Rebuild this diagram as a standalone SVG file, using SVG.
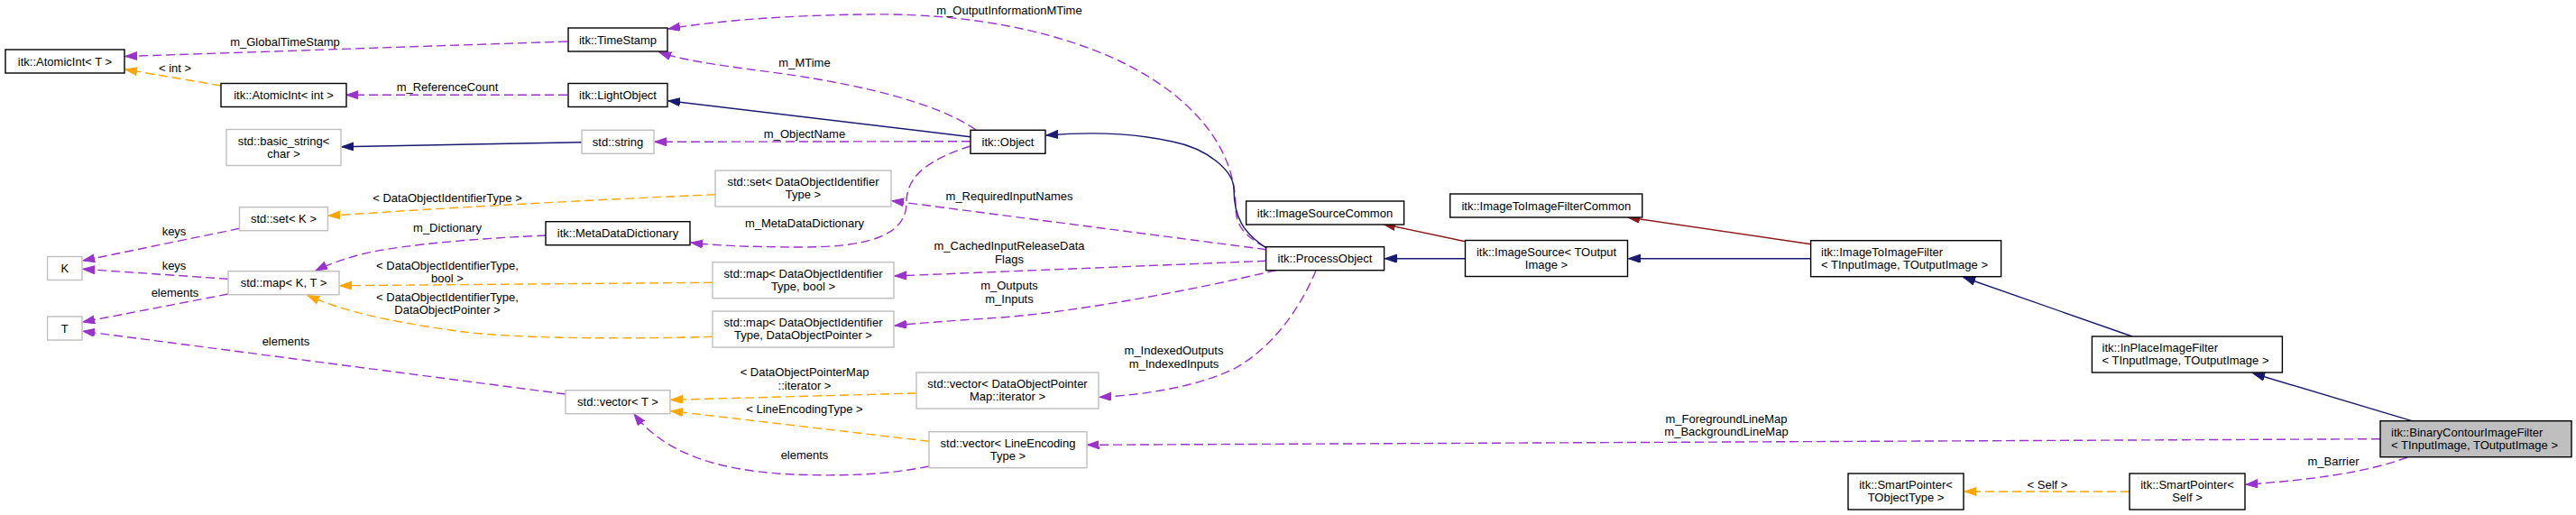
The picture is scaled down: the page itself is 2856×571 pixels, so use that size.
<svg xmlns="http://www.w3.org/2000/svg" width="2856" height="571" viewBox="0 0 2856 571">
<style>
text{font-family:"Liberation Sans",Arial,Helvetica,sans-serif;font-size:13px;fill:#000}
.nd rect{fill:#fff;stroke:#000;stroke-width:1.4}
.gr rect{stroke:#bfbfbf}
.sel rect{fill:#bfbfbf}
.c{text-anchor:middle}
#edges path{fill:none;stroke-width:1.4}
.u{stroke:#9a32cd;stroke-dasharray:10,5;marker-end:url(#mp)}
.t{stroke:#ffa500;stroke-dasharray:10,5;marker-end:url(#mo)}
.i{stroke:#191970;marker-end:url(#mn)}
.r{stroke:#8b1a1a;marker-end:url(#mr)}
</style>
<defs>
<marker id="mp" markerUnits="userSpaceOnUse" markerWidth="14" markerHeight="10" refX="13" refY="4.5" orient="auto"><path d="M0,0 L13,4.5 L0,9 z" fill="#9a32cd" stroke="#9a32cd"/></marker>
<marker id="mo" markerUnits="userSpaceOnUse" markerWidth="14" markerHeight="10" refX="13" refY="4.5" orient="auto"><path d="M0,0 L13,4.5 L0,9 z" fill="#ffa500" stroke="#ffa500"/></marker>
<marker id="mn" markerUnits="userSpaceOnUse" markerWidth="14" markerHeight="10" refX="13" refY="4.5" orient="auto"><path d="M0,0 L13,4.5 L0,9 z" fill="#191970" stroke="#191970"/></marker>
<marker id="mr" markerUnits="userSpaceOnUse" markerWidth="14" markerHeight="10" refX="13" refY="4.5" orient="auto"><path d="M0,0 L13,4.5 L0,9 z" fill="#8b1a1a" stroke="#8b1a1a"/></marker>
</defs>
<rect width="2856" height="571" fill="#fff"/>
<g id="edges">
<path class="u" d="M629,46 L139,62.5"/>
<text class="c" x="316" y="51">m_GlobalTimeStamp</text>
<path class="t" d="M245,95 L139,77"/>
<text class="c" x="194" y="79.5">&lt; int &gt;</text>
<path class="u" d="M629,105.3 L384,105.3"/>
<text class="c" x="496" y="101">m_ReferenceCount</text>
<path class="u" d="M1403,274 C1380,262 1370,250 1370,230 C1370,170 1330,110 1240,67 C1160,30 1060,14 957,16 C880,17 800,22 741,32"/>
<text class="c" x="1119" y="16">m_OutputInformationMTime</text>
<path class="u" d="M1082,144 C1040,115 960,95 870,82 C810,74 760,68 731,58"/>
<text class="c" x="892" y="73.5">m_MTime</text>
<path class="i" d="M1076,151.7 L741,111.7"/>
<path class="u" d="M1076,156.7 L726,157.3"/>
<text class="c" x="892" y="153">m_ObjectName</text>
<path class="u" d="M1076,162 C1020,180 1005,200 1005,225 C1005,262 960,274 890,274 C830,274 790,272 766,269"/>
<text class="c" x="892" y="252">m_MetaDataDictionary</text>
<path class="i" d="M645,157.7 L379,162.7"/>
<path class="t" d="M793,215.7 C650,222 500,230 364,239.3"/>
<text class="c" x="496" y="223.5">&lt; DataObjectIdentifierType &gt;</text>
<path class="u" d="M265.5,253.3 L92,289"/>
<text class="c" x="193" y="260.5">keys</text>
<path class="u" d="M605,261 C540,264 450,270 400,282 C375,289 360,295 350,300"/>
<text class="c" x="496" y="257">m_Dictionary</text>
<path class="u" d="M253,309.3 L92,298.3"/>
<text class="c" x="193" y="299">keys</text>
<path class="u" d="M253,326 L92,357"/>
<text class="c" x="194" y="328.5">elements</text>
<path class="t" d="M790,313.3 L377,316.7"/>
<text class="c" x="496" y="299">&lt; DataObjectIdentifierType,</text>
<text class="c" x="496" y="313">bool &gt;</text>
<path class="t" d="M790,373.3 C700,376 560,376 500,366 C430,356 380,345 341,327.5"/>
<text class="c" x="496" y="333.5">&lt; DataObjectIdentifierType,</text>
<text class="c" x="496" y="347.5">DataObjectPointer &gt;</text>
<path class="u" d="M627,437 L92,367.3"/>
<text class="c" x="317" y="383">elements</text>
<path class="i" d="M1404,275 C1378,258 1368,240 1368,210 C1368,190 1340,165 1300,157 C1260,148 1210,146 1160,150"/>
<path class="u" d="M1404,276.7 L989,222.7"/>
<text class="c" x="1119" y="221.5">m_RequiredInputNames</text>
<path class="u" d="M1404,289.3 L992,306"/>
<text class="c" x="1119" y="277">m_CachedInputReleaseData</text>
<text class="c" x="1119" y="291.5">Flags</text>
<path class="u" d="M1415,299.5 C1330,320 1200,345 1110,352 C1050,356 1020,358 992,361"/>
<text class="c" x="1119" y="321">m_Outputs</text>
<text class="c" x="1119" y="336">m_Inputs</text>
<path class="u" d="M1459,300 C1440,345 1410,385 1370,408 C1330,428 1270,438 1219,440.3"/>
<text class="c" x="1301.5" y="393">m_IndexedOutputs</text>
<text class="c" x="1301.5" y="408">m_IndexedInputs</text>
<path class="t" d="M1016,436 L744,443.3"/>
<text class="c" x="892" y="417">&lt; DataObjectPointerMap</text>
<text class="c" x="892" y="432">::iterator &gt;</text>
<path class="t" d="M1030,489.3 L744,455.7"/>
<text class="c" x="892" y="457.5">&lt; LineEncodingType &gt;</text>
<path class="u" d="M1030,517 C980,527 930,528 880,526 C790,522 735,500 703,459"/>
<text class="c" x="892" y="508.5">elements</text>
<path class="r" d="M1624.5,267.7 L1534,248.5"/>
<path class="r" d="M2008,270.7 L1805,241"/>
<path class="i" d="M1624.5,286.7 L1535.5,286.7"/>
<path class="i" d="M2008,286.7 L1805.5,286.7"/>
<path class="i" d="M2364,373 L2177,307.5"/>
<path class="i" d="M2674,466.7 L2498,414"/>
<path class="u" d="M2639,486.7 L1205.5,493.3"/>
<text class="c" x="1914" y="468.5">m_ForegroundLineMap</text>
<text class="c" x="1914" y="483">m_BackgroundLineMap</text>
<path class="u" d="M2669,507 C2620,525 2560,532 2490,537.3"/>
<text class="c" x="2587" y="516">m_Barrier</text>
<path class="t" d="M2361,545 L2178,545"/>
<text class="c" x="2270" y="541.5">&lt; Self &gt;</text>
</g>
<g id="n_atomicT" class="nd"><rect x="6" y="55" width="132" height="26"/><text class="c" x="72" y="72.5">itk::AtomicInt&lt; T &gt;</text></g>
<g id="n_timestamp" class="nd"><rect x="630" y="31" width="110" height="26"/><text class="c" x="685" y="48.5">itk::TimeStamp</text></g>
<g id="n_atomicInt" class="nd"><rect x="245" y="92.5" width="139" height="26"/><text class="c" x="314.5" y="110">itk::AtomicInt&lt; int &gt;</text></g>
<g id="n_lightobject" class="nd"><rect x="630" y="92.5" width="110" height="26"/><text class="c" x="685" y="110">itk::LightObject</text></g>
<g id="n_basicstring" class="nd gr"><rect x="251" y="143.5" width="127" height="40"/><text class="c" x="314.5" y="160.5">std::basic_string&lt;</text><text class="c" x="314.5" y="174.5">char &gt;</text></g>
<g id="n_string" class="nd gr"><rect x="645" y="144.3" width="80" height="26"/><text class="c" x="685" y="161.8">std::string</text></g>
<g id="n_object" class="nd"><rect x="1076" y="144.3" width="83" height="26"/><text class="c" x="1117.5" y="161.8">itk::Object</text></g>
<g id="n_setDOI" class="nd gr"><rect x="793" y="189" width="195" height="40"/><text class="c" x="890.5" y="206">std::set&lt; DataObjectIdentifier</text><text class="c" x="890.5" y="220">Type &gt;</text></g>
<g id="n_setK" class="nd gr"><rect x="265.5" y="229.7" width="98" height="26"/><text class="c" x="314.5" y="247.2">std::set&lt; K &gt;</text></g>
<g id="n_metadata" class="nd"><rect x="605" y="245.7" width="160" height="26"/><text class="c" x="685" y="263.2">itk::MetaDataDictionary</text></g>
<g id="n_K" class="nd gr"><rect x="52.6" y="284.5" width="38.4" height="26"/><text class="c" x="71.8" y="302">K</text></g>
<g id="n_mapKT" class="nd gr"><rect x="253" y="300.7" width="123" height="26"/><text class="c" x="314.5" y="318.2">std::map&lt; K, T &gt;</text></g>
<g id="n_T" class="nd gr"><rect x="52.6" y="351" width="38.4" height="26"/><text class="c" x="71.8" y="368.5">T</text></g>
<g id="n_mapBool" class="nd gr"><rect x="790" y="290.7" width="201" height="40"/><text class="c" x="890.5" y="307.7">std::map&lt; DataObjectIdentifier</text><text class="c" x="890.5" y="321.7">Type, bool &gt;</text></g>
<g id="n_mapDOP" class="nd gr"><rect x="790" y="345" width="201" height="40"/><text class="c" x="890.5" y="362">std::map&lt; DataObjectIdentifier</text><text class="c" x="890.5" y="376">Type, DataObjectPointer &gt;</text></g>
<g id="n_vectorT" class="nd gr"><rect x="627" y="432.7" width="116" height="26"/><text class="c" x="685" y="450.2">std::vector&lt; T &gt;</text></g>
<g id="n_vecDOPMap" class="nd gr"><rect x="1016" y="413" width="202" height="40"/><text class="c" x="1117" y="430">std::vector&lt; DataObjectPointer</text><text class="c" x="1117" y="444">Map::iterator &gt;</text></g>
<g id="n_vecLine" class="nd gr"><rect x="1030" y="478.7" width="175" height="40"/><text class="c" x="1117.5" y="495.7">std::vector&lt; LineEncoding</text><text class="c" x="1117.5" y="509.7">Type &gt;</text></g>
<g id="n_processobject" class="nd"><rect x="1403.6" y="273.7" width="131" height="26"/><text class="c" x="1469" y="291.2">itk::ProcessObject</text></g>
<g id="n_imgsrccommon" class="nd"><rect x="1381.6" y="223" width="175" height="26"/><text class="c" x="1469" y="240.5">itk::ImageSourceCommon</text></g>
<g id="n_i2icommon" class="nd"><rect x="1607.7" y="215" width="213" height="26"/><text class="c" x="1714.3" y="232.5">itk::ImageToImageFilterCommon</text></g>
<g id="n_imgsrc" class="nd"><rect x="1624.5" y="266.5" width="180" height="40"/><text class="c" x="1714.5" y="283.5">itk::ImageSource&lt; TOutput</text><text class="c" x="1714.5" y="297.5">Image &gt;</text></g>
<g id="n_i2i" class="nd"><rect x="2007.6" y="266.7" width="211" height="40"/><text x="2019" y="283.7">itk::ImageToImageFilter</text><text x="2019" y="297.7">&lt; TInputImage, TOutputImage &gt;</text></g>
<g id="n_inplace" class="nd"><rect x="2319.4" y="373" width="211" height="40"/><text x="2330.5" y="390">itk::InPlaceImageFilter</text><text x="2330.5" y="404">&lt; TInputImage, TOutputImage &gt;</text></g>
<g id="n_binary" class="nd sel"><rect x="2639" y="466.7" width="212" height="40"/><text x="2651" y="483.7">itk::BinaryContourImageFilter</text><text x="2651" y="497.7">&lt; TInputImage, TOutputImage &gt;</text></g>
<g id="n_spObj" class="nd"><rect x="2049" y="525" width="128" height="40"/><text class="c" x="2113" y="542">itk::SmartPointer&lt;</text><text class="c" x="2113" y="556">TObjectType &gt;</text></g>
<g id="n_spSelf" class="nd"><rect x="2361" y="525" width="128" height="40"/><text class="c" x="2425" y="542">itk::SmartPointer&lt;</text><text class="c" x="2425" y="556">Self &gt;</text></g>
</svg>
